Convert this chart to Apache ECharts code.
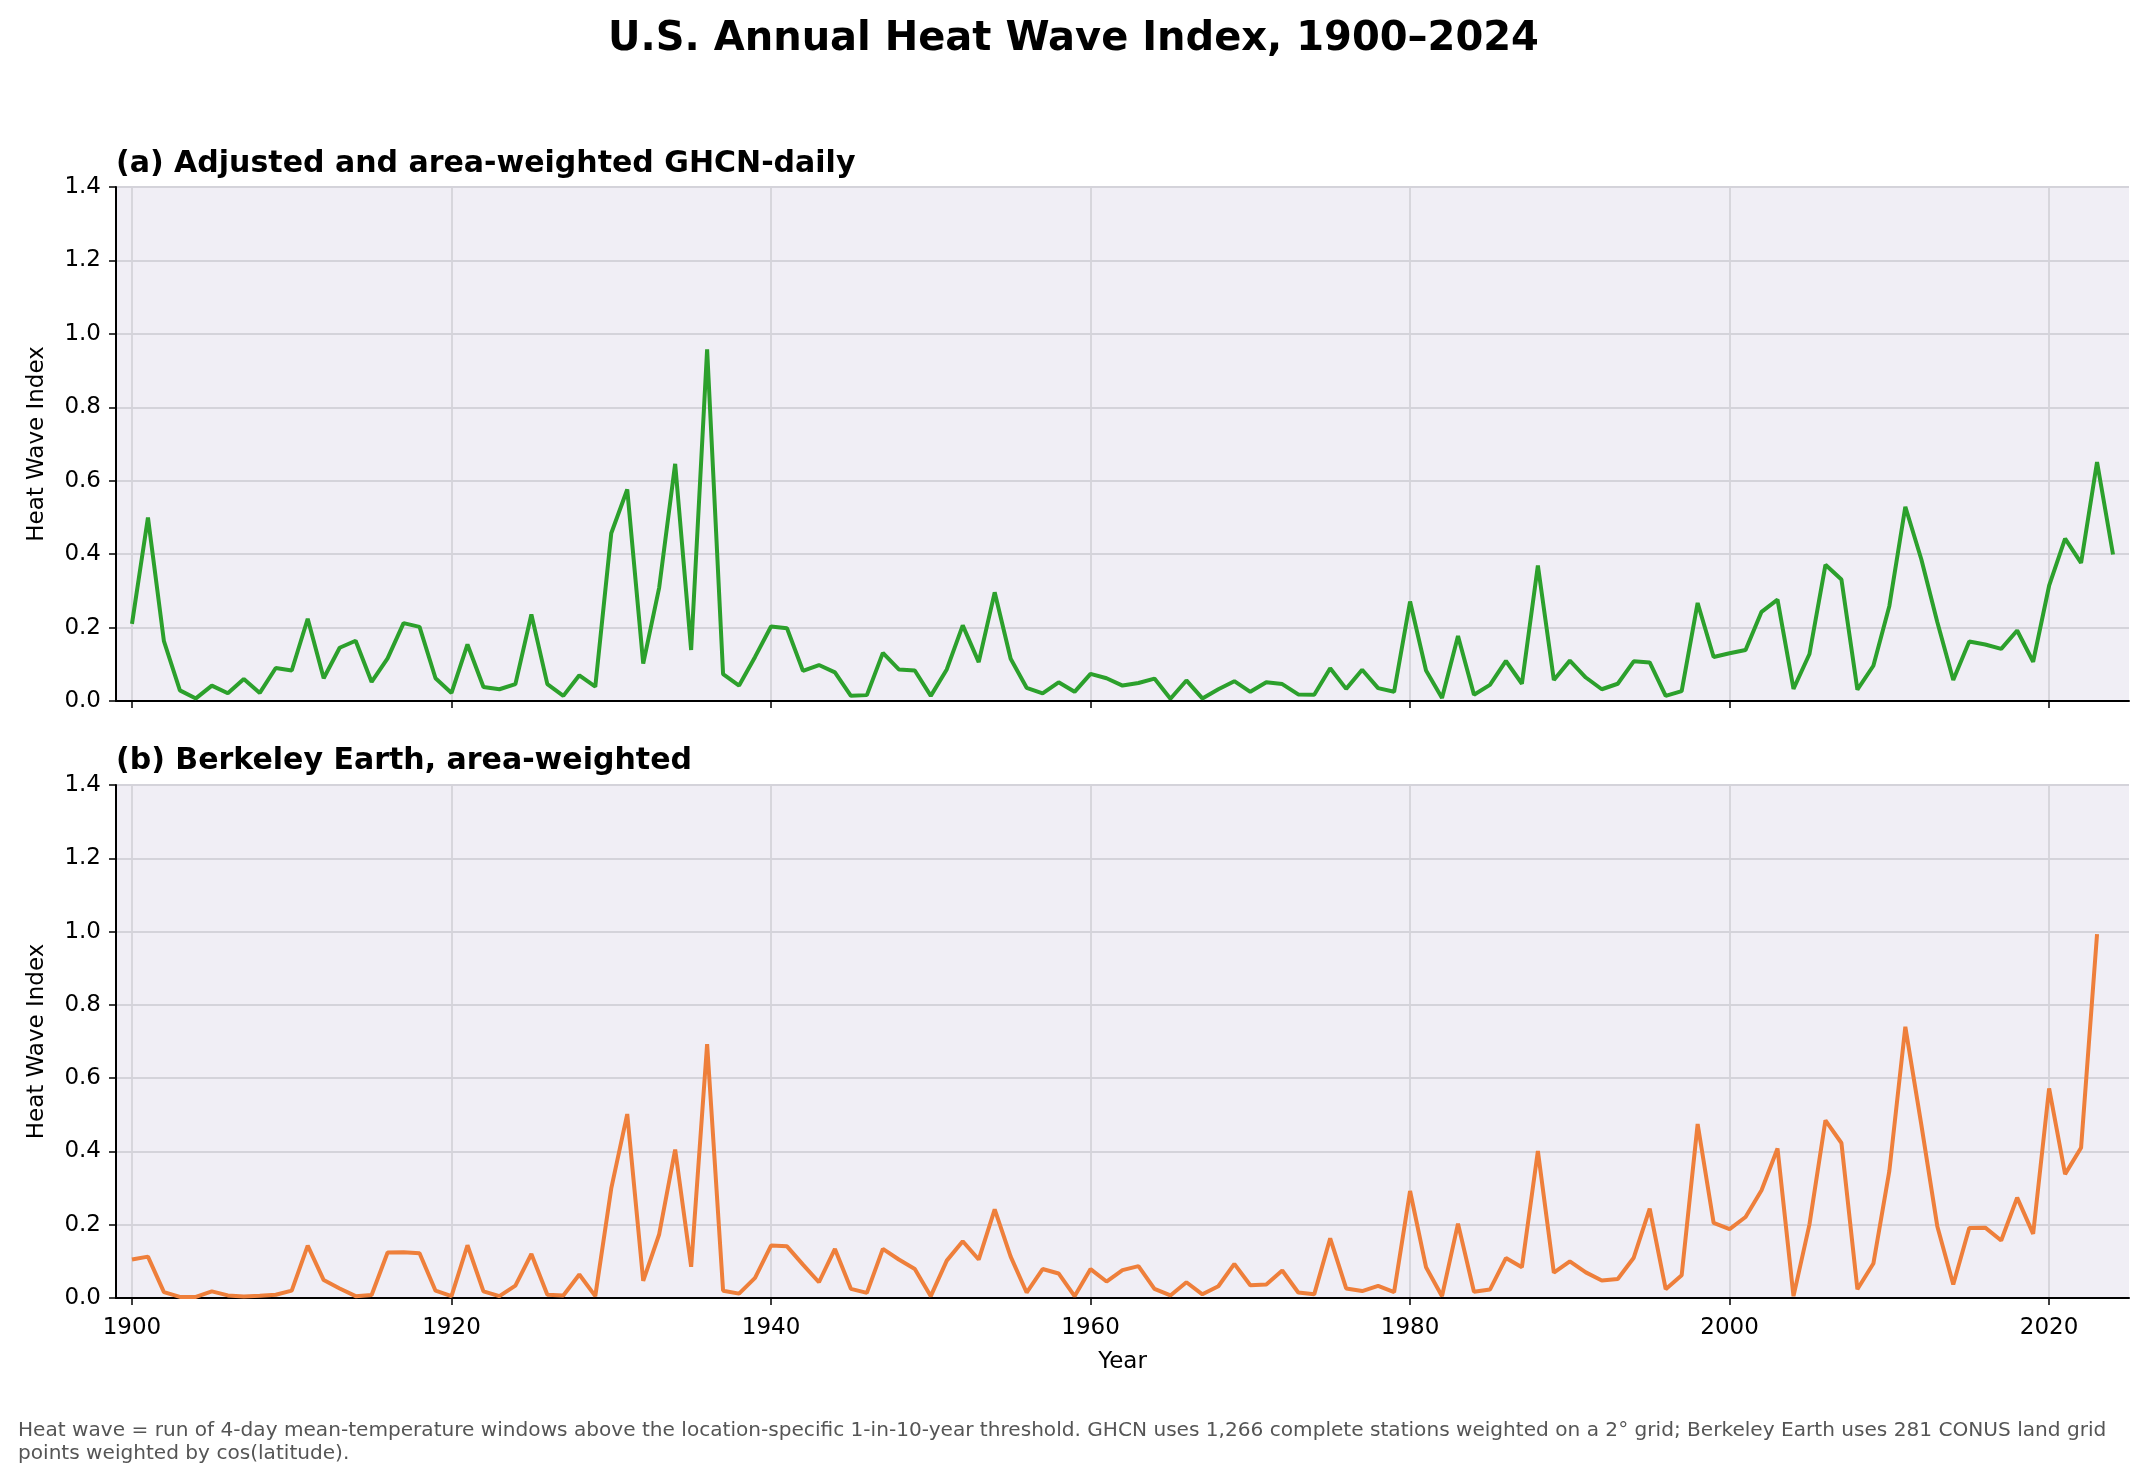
<!DOCTYPE html>
<html>
<head>
<meta charset="utf-8">
<title>U.S. Annual Heat Wave Index</title>
<script src="https://cdn.jsdelivr.net/npm/echarts@6/dist/echarts.min.js"></script>
<style>
	html, body { margin: 0; padding: 0; background: #fff; }
	#main { width: 2147px; height: 1483px; }
</style>
</head>
<body>
<div id="main"></div>
<script>
// 数据：年份 & 热浪指数
var startYear = 1900
var yearTicks = [1900, 1920, 1940, 1960, 1980, 2000, 2020]
var yTicks = [0, 0.2, 0.4, 0.6, 0.8, 1.0, 1.2, 1.4]

// (a) GHCN-daily, 1900-2024
var ghcnIndex = [
	0.21, 0.50, 0.163, 0.029, 0.007, 0.042, 0.021, 0.060, 0.022, 0.090,
	0.083, 0.224, 0.062, 0.145, 0.164, 0.052, 0.116, 0.212, 0.202, 0.062,
	0.022, 0.154, 0.038, 0.032, 0.046, 0.236, 0.046, 0.014, 0.070, 0.039,
	0.457, 0.576, 0.102, 0.309, 0.646, 0.139, 0.958, 0.073, 0.042, 0.120,
	0.203, 0.198, 0.082, 0.098, 0.078, 0.014, 0.016, 0.131, 0.086, 0.083,
	0.014, 0.086, 0.206, 0.106, 0.296, 0.115, 0.036, 0.021, 0.051, 0.025,
	0.074, 0.062, 0.042, 0.049, 0.061, 0.006, 0.056, 0.007, 0.032, 0.054,
	0.025, 0.051, 0.046, 0.018, 0.017, 0.089, 0.033, 0.085, 0.035, 0.025,
	0.271, 0.083, 0.008, 0.177, 0.017, 0.044, 0.109, 0.047, 0.369, 0.057,
	0.110, 0.064, 0.032, 0.047, 0.108, 0.105, 0.014, 0.027, 0.267, 0.120,
	0.130, 0.139, 0.243, 0.276, 0.033, 0.128, 0.371, 0.331, 0.031, 0.096,
	0.259, 0.529, 0.386, 0.215, 0.057, 0.162, 0.154, 0.142, 0.192, 0.107,
	0.314, 0.442, 0.376, 0.651, 0.399
]

// (b) Berkeley Earth, 1900-2023
var berkeleyIndex = [
	0.105, 0.113, 0.016, 0.003, 0.003, 0.018, 0.007, 0.004, 0.006, 0.009,
	0.020, 0.143, 0.049, 0.026, 0.005, 0.008, 0.124, 0.125, 0.122, 0.020,
	0.005, 0.144, 0.018, 0.005, 0.034, 0.120, 0.009, 0.007, 0.064, 0.005,
	0.299, 0.502, 0.047, 0.174, 0.405, 0.085, 0.693, 0.020, 0.012, 0.055,
	0.143, 0.141, 0.091, 0.043, 0.134, 0.025, 0.014, 0.134, 0.105, 0.079,
	0.005, 0.102, 0.155, 0.105, 0.242, 0.113, 0.015, 0.079, 0.067, 0.005,
	0.079, 0.045, 0.076, 0.087, 0.025, 0.007, 0.043, 0.010, 0.032, 0.093,
	0.035, 0.037, 0.075, 0.015, 0.010, 0.163, 0.026, 0.019, 0.033, 0.016,
	0.292, 0.084, 0.005, 0.203, 0.017, 0.023, 0.109, 0.084, 0.401, 0.069,
	0.100, 0.070, 0.048, 0.052, 0.110, 0.244, 0.024, 0.062, 0.475, 0.205,
	0.188, 0.221, 0.294, 0.408, 0.005, 0.201, 0.485, 0.423, 0.024, 0.094,
	0.347, 0.740, 0.473, 0.196, 0.037, 0.191, 0.192, 0.157, 0.274, 0.175,
	0.572, 0.338, 0.410, 0.993
]

var footNote = 'Heat wave = run of 4-day mean-temperature windows above the location-specific 1-in-10-year threshold. GHCN uses 1,266 complete stations weighted on a 2\u00b0 grid; Berkeley Earth uses 281 CONUS land grid\npoints weighted by cos(latitude).'

var toPairs = function (arr) {
	var out = []
	for (var i = 0; i < arr.length; i++) {
		out.push([startYear + i, arr[i]])
	}
	return out
}

var fontFamily = 'DejaVu Sans'
var gridColor = '#d4d3da'

function xAxisFor(gridIndex, showLabel) {
	return {
		type: 'value',
		gridIndex: gridIndex,
		min: 1899,
		max: 2025,
		name: showLabel ? 'Year' : '',
		nameLocation: 'middle',
		nameGap: 53,
		nameTextStyle: { fontFamily: fontFamily, fontSize: 23, color: '#000' },
		axisLine: { show: true, onZero: false, lineStyle: { color: '#000', width: 2 } },
		axisTick: { show: true, inside: false, length: 7, customValues: yearTicks, lineStyle: { color: '#000', width: 1.5 } },
		axisLabel: {
			show: showLabel, customValues: yearTicks, margin: 19,
			fontFamily: fontFamily, fontSize: 23, color: '#000',
			formatter: function (v) { return String(v) }
		},
		splitLine: { show: true, lineStyle: { color: gridColor, width: 1.8 } }
	}
}

function yAxisFor(gridIndex) {
	return {
		type: 'value',
		gridIndex: gridIndex,
		min: 0,
		max: 1.4,
		interval: 0.2,
		name: 'Heat Wave Index',
		nameLocation: 'middle',
		nameGap: 67,
		nameTextStyle: { fontFamily: fontFamily, fontSize: 23, color: '#000' },
		axisLine: { show: true, lineStyle: { color: '#000', width: 2 } },
		axisTick: { show: true, inside: false, length: 7, lineStyle: { color: '#000', width: 1.5 } },
		axisLabel: {
			margin: 15, fontFamily: fontFamily, fontSize: 23, color: '#000',
			formatter: function (v) { return v.toFixed(1) }
		},
		splitLine: { show: true, lineStyle: { color: gridColor, width: 1.8 } }
	}
}

var chart = echarts.init(document.getElementById('main'), null, { renderer: 'canvas' });
var option = {
	animation: false,
	backgroundColor: '#ffffff',
	title: [
		{
			text: 'U.S. Annual Heat Wave Index, 1900\u20132024',
			left: 'center',
			top: 15,
			textStyle: { fontFamily: fontFamily, fontSize: 40, fontWeight: 'bold', color: '#000' }
		},
		{
			text: '(a) Adjusted and area-weighted GHCN-daily',
			left: 111,
			top: 144,
			textStyle: { fontFamily: fontFamily, fontSize: 30, fontWeight: 'bold', color: '#000' }
		},
		{
			text: '(b) Berkeley Earth, area-weighted',
			left: 111,
			top: 741,
			textStyle: { fontFamily: fontFamily, fontSize: 30, fontWeight: 'bold', color: '#000' }
		},
		{
			text: footNote,
			left: 13,
			top: 1414,
			textStyle: { fontFamily: fontFamily, fontSize: 20.1, fontWeight: 'normal', color: '#555555', lineHeight: 23 }
		}
	],
	grid: [
		{ left: 116, right: 18, top: 187, height: 514, show: true, backgroundColor: '#f0eef5', borderWidth: 0 },
		{ left: 116, right: 18, top: 785, height: 513, show: true, backgroundColor: '#f0eef5', borderWidth: 0 }
	],
	xAxis: [xAxisFor(0, false), xAxisFor(1, true)],
	yAxis: [yAxisFor(0), yAxisFor(1)],
	series: [
		{
			name: 'GHCN-daily',
			type: 'line',
			xAxisIndex: 0,
			yAxisIndex: 0,
			data: toPairs(ghcnIndex),
			showSymbol: false,
			lineStyle: { color: '#2ca02c', width: 4 },
			itemStyle: { color: '#2ca02c' }
		},
		{
			name: 'Berkeley Earth',
			type: 'line',
			xAxisIndex: 1,
			yAxisIndex: 1,
			data: toPairs(berkeleyIndex),
			showSymbol: false,
			lineStyle: { color: '#ee7f3b', width: 4 },
			itemStyle: { color: '#ee7f3b' }
		}
	]
};
chart.setOption(option);

window.onresize = function () {
	chart.resize();
};
</script>
</body>
</html>
